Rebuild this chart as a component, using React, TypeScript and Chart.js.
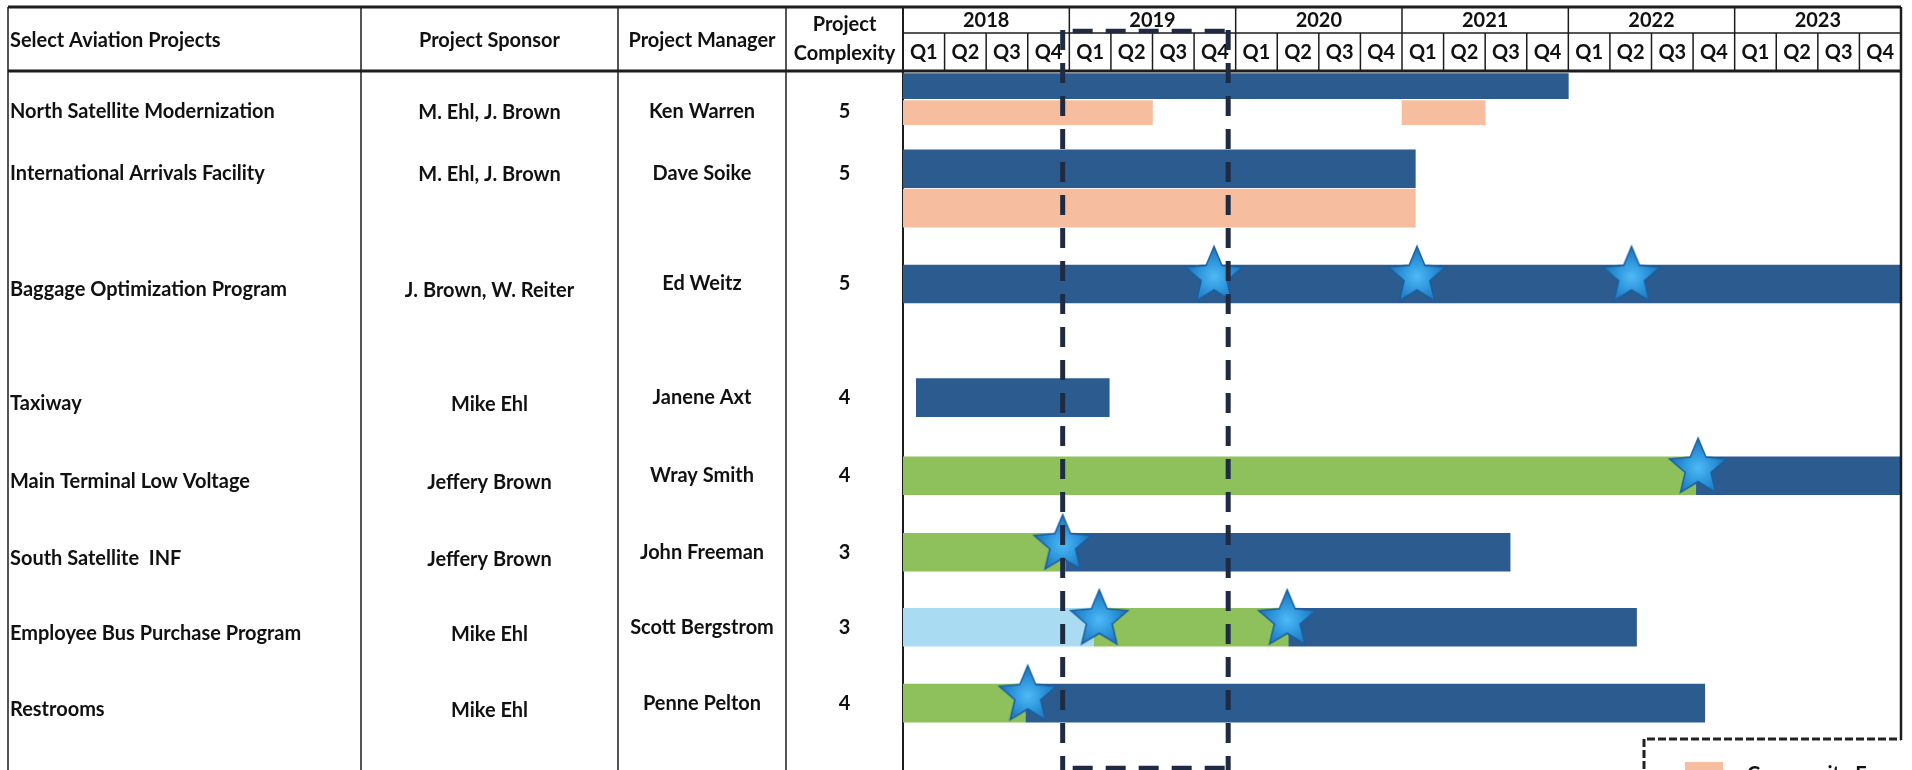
import React, { useEffect, useRef } from 'react';
import { Chart, registerables } from 'chart.js';

Chart.register(...registerables);

// ---------------- data ----------------
const years = ['2018', '2019', '2020', '2021', '2022', '2023'];
const quarters = ['Q1', 'Q2', 'Q3', 'Q4'];

const projects = [
  'North Satellite Modernization',
  'International Arrivals Facility',
  'Baggage Optimization Program',
  'Taxiway',
  'Main Terminal Low Voltage',
  'South Satellite  INF',
  'Employee Bus Purchase Program',
  'Restrooms',
];
const sponsors = [
  'M. Ehl, J. Brown',
  'M. Ehl, J. Brown',
  'J. Brown, W. Reiter',
  'Mike Ehl',
  'Jeffery Brown',
  'Jeffery Brown',
  'Mike Ehl',
  'Mike Ehl',
];
const managers = [
  'Ken Warren',
  'Dave Soike',
  'Ed Weitz',
  'Janene Axt',
  'Wray Smith',
  'John Freeman',
  'Scott Bergstrom',
  'Penne Pelton',
];
const complexity = [5, 5, 5, 4, 4, 3, 3, 4];

// dark-blue schedule bars, fractional years
const scheduleStart = [2018.0, 2018.0, 2018.0, 2018.08, 2022.77, 2018.98, 2020.32, 2018.74];
const scheduleEnd = [2022.0, 2021.08, 2024.0, 2019.24, 2024.0, 2021.65, 2022.41, 2022.82];

// green phase
const greenStart = [null, null, null, null, 2018.0, 2018.0, 2019.15, 2018.0];
const greenEnd = [null, null, null, null, 2022.77, 2018.98, 2020.32, 2018.74];

// light-blue phase
const lightStart = [null, null, null, null, null, null, 2018.0, null];
const lightEnd = [null, null, null, null, null, null, 2019.15, null];

// community engagement (peach) bars
const communityProject = [0, 0, 1];
const communityStart = [2018.0, 2021.0, 2018.0];
const communityEnd = [2019.5, 2021.5, 2021.08];

// milestones (stars)
const milestoneProject = [2, 2, 2, 4, 5, 6, 6, 7];
const milestoneDate = [2019.87, 2021.09, 2022.38, 2022.78, 2018.96, 2019.18, 2020.31, 2018.75];

// highlighted window (dashed box)
const windowRange = [2018.96, 2019.955];

// ---------------- layout ----------------
const W = 1912;
const H = 770;
const HEADER_BOTTOM = 71;
const ROW_PX = 77;
const Y_MAX = (H - HEADER_BOTTOM) / ROW_PX;
// lane (row units) of each project's schedule bar
const scheduleLane = [0.2, 1.29, 2.81, 4.31, 5.34, 6.35, 7.34, 8.34];
// lane of the community bar for projects 0 and 1
const communityLane = [0.55, 1.81];
// lane of text of each row
const textLane = [0.54, 1.35, 2.81, 4.31, 5.34, 6.35, 7.34, 8.34];
const colEdges = [8, 361, 618, 786];

const C_BLUE = '#2C5B90';
const C_PEACH = '#F6BE9F';
const C_GREEN = '#8EC05B';
const C_LIGHT = '#A9DCF3';
const C_LINE = '#1c1c1c';
const C_DASH = '#1F2B43';
const FONT_FAMILY = 'Lato, "Liberation Sans", sans-serif';

function makeStar(R: number): HTMLCanvasElement {
  const s = Math.ceil(R * 2 + 6);
  const c = document.createElement('canvas');
  c.width = s;
  c.height = s;
  const g = c.getContext('2d')!;
  const cx = s / 2;
  const cy = s / 2;
  const r = R * 0.45;
  g.beginPath();
  for (let i = 0; i < 10; i++) {
    const rad = i % 2 === 0 ? R : r;
    const a = -Math.PI / 2 + (i * Math.PI) / 5;
    const px = cx + rad * Math.cos(a);
    const py = cy + rad * Math.sin(a);
    if (i === 0) g.moveTo(px, py);
    else g.lineTo(px, py);
  }
  g.closePath();
  const grad = g.createRadialGradient(cx, cy, 1, cx, cy, R);
  grad.addColorStop(0, '#4CB8F4');
  grad.addColorStop(0.45, '#3099DF');
  grad.addColorStop(1, '#1E70B8');
  g.fillStyle = grad;
  g.fill();
  g.lineWidth = 1.5;
  g.strokeStyle = '#1A5F9F';
  g.stroke();
  return c;
}

function line(ctx: CanvasRenderingContext2D, x1: number, y1: number, x2: number, y2: number) {
  ctx.beginPath();
  ctx.moveTo(x1, y1);
  ctx.lineTo(x2, y2);
  ctx.stroke();
}

function fittedFont(ctx: CanvasRenderingContext2D) {
  ctx.font = `bold 20px ${FONT_FAMILY}`;
  const fs = (20 * 265) / ctx.measureText(projects[0]).width;
  return { fs, font: `bold ${fs.toFixed(2)}px ${FONT_FAMILY}` };
}

const tablePlugin = {
  id: 'projectTable',
  beforeDraw(chart: any) {
    const { ctx } = chart;
    ctx.save();
    ctx.fillStyle = '#ffffff';
    ctx.fillRect(0, 0, chart.width, chart.height);
    ctx.restore();
  },
  beforeDatasetsDraw(chart: any) {
    const { ctx, chartArea, scales } = chart;
    const x = scales.x;
    const y = scales.y;
    const top = 7;
    const mid = 33;
    const hb = chartArea.top;
    const left = chartArea.left;
    const right = chartArea.right;

    ctx.save();
    const { font } = fittedFont(ctx);

    // grid lines
    ctx.strokeStyle = C_LINE;
    ctx.lineWidth = 3;
    line(ctx, colEdges[0], top, right, top);
    line(ctx, colEdges[0], hb, right, hb);
    ctx.lineWidth = 1.5;
    line(ctx, left, mid, right, mid);
    for (const cx of colEdges) line(ctx, cx, top, cx, H);
    ctx.lineWidth = 2;
    line(ctx, left, top, left, H);
    ctx.lineWidth = 1.5;
    for (let yi = 1; yi < years.length; yi++) {
      const px = x.getPixelForValue(Number(years[0]) + yi);
      line(ctx, px, top, px, mid);
    }
    for (let k = 1; k < years.length * 4; k++) {
      const px = x.getPixelForValue(Number(years[0]) + k / 4);
      line(ctx, px, mid, px, hb);
    }

    // header text
    ctx.fillStyle = '#111111';
    ctx.font = font;
    ctx.textBaseline = 'middle';
    ctx.textAlign = 'left';
    ctx.fillText('Select Aviation Projects', colEdges[0] + 2, 41);
    ctx.textAlign = 'center';
    ctx.fillText('Project Sponsor', (colEdges[1] + colEdges[2]) / 2, 41);
    ctx.fillText('Project Manager', (colEdges[2] + colEdges[3]) / 2, 41);
    ctx.fillText('Project', (colEdges[3] + left) / 2, 25);
    ctx.fillText('Complexity', (colEdges[3] + left) / 2, 54);
    years.forEach((yr) => {
      const base = Number(yr);
      ctx.fillText(yr, x.getPixelForValue(base + 0.5), 21);
      quarters.forEach((q, qi) => {
        ctx.fillText(q, x.getPixelForValue(base + (qi + 0.5) / 4), 53);
      });
    });

    // row text
    projects.forEach((p, i) => {
      const py = y.getPixelForValue(textLane[i]);
      const shift = i >= 2 ? 6 : 0;
      ctx.textAlign = 'left';
      ctx.fillText(p, colEdges[0] + 2, py + shift);
      ctx.textAlign = 'center';
      ctx.fillText(sponsors[i], (colEdges[1] + colEdges[2]) / 2, py + shift + 1);
      ctx.fillText(managers[i], (colEdges[2] + colEdges[3]) / 2, py);
      ctx.fillText(String(complexity[i]), (colEdges[3] + left) / 2, py);
    });
    ctx.restore();
  },
  afterDatasetsDraw(chart: any) {
    const { ctx, chartArea, scales } = chart;
    const x = scales.x;
    const right = chartArea.right;
    ctx.save();
    // right frame
    ctx.strokeStyle = C_LINE;
    ctx.lineWidth = 2.5;
    line(ctx, right, 7, right, 740);

    // dashed highlight window
    const x1 = x.getPixelForValue(windowRange[0]);
    const x2 = x.getPixelForValue(windowRange[1]);
    ctx.strokeStyle = C_DASH;
    ctx.lineWidth = 5;
    ctx.setLineDash([20, 13]);
    line(ctx, x1, 30, x1, H);
    line(ctx, x2, 30, x2, H);
    ctx.lineWidth = 4.5;
    line(ctx, x1 + 10, 31, x2, 31);
    line(ctx, x1 + 10, H - 2, x2, H - 2);

    // legend box (cut off by the page)
    ctx.strokeStyle = '#222222';
    ctx.lineWidth = 3;
    ctx.setLineDash([8, 3]);
    ctx.beginPath();
    ctx.moveTo(1644, H + 10);
    ctx.lineTo(1644, 739);
    ctx.lineTo(right, 739);
    ctx.stroke();
    ctx.setLineDash([]);
    ctx.fillStyle = C_PEACH;
    ctx.fillRect(1685, 762, 38, 20);
    const { fs, font } = fittedFont(ctx);
    ctx.font = font;
    ctx.fillStyle = '#111111';
    ctx.textAlign = 'left';
    ctx.textBaseline = 'alphabetic';
    ctx.fillText('Community Engagement', 1747, 767 + fs * 0.72);
    ctx.restore();
  },
};

function ranges(starts: (number | null)[], ends: (number | null)[], lanes: number[], keep: (i: number) => boolean) {
  const out: any[] = [];
  starts.forEach((s, i) => {
    if (s == null || ends[i] == null || !keep(i)) return;
    out.push({ x: [s, ends[i]], y: lanes[i] });
  });
  return out;
}

export default function App() {
  const ref = useRef<HTMLCanvasElement>(null);

  useEffect(() => {
    document.body.style.margin = '0';
    const canvas = ref.current;
    if (!canvas) return;
    const star = makeStar(30);

    const barBase = {
      type: 'bar' as const,
      indexAxis: 'y' as const,
      grouped: false,
      borderWidth: 0,
      borderSkipped: false,
      order: 2,
    };

    const communityData = communityProject.map((p, k) => ({
      x: [communityStart[k], communityEnd[k]],
      y: communityLane[p],
    }));

    const chart = new Chart(canvas, {
      type: 'bar',
      data: {
        datasets: [
          {
            type: 'scatter',
            label: 'Milestone',
            data: milestoneProject.map((p, k) => ({ x: milestoneDate[k], y: scheduleLane[p] - 0.1 })),
            pointStyle: star,
            pointRadius: 10,
            showLine: false,
            order: 0,
          } as any,
          {
            ...barBase,
            label: 'Schedule',
            data: ranges(scheduleStart, scheduleEnd, scheduleLane, (i) => i !== 0),
            backgroundColor: C_BLUE,
            barThickness: 38,
          },
          {
            ...barBase,
            label: 'Schedule ',
            data: ranges(scheduleStart, scheduleEnd, scheduleLane, (i) => i === 0),
            backgroundColor: C_BLUE,
            barThickness: 25,
          },
          {
            ...barBase,
            label: 'Community Engagement',
            data: communityData.filter((d, k) => communityProject[k] === 0),
            backgroundColor: C_PEACH,
            barThickness: 24,
          },
          {
            ...barBase,
            label: 'Community Engagement ',
            data: communityData.filter((d, k) => communityProject[k] !== 0),
            backgroundColor: C_PEACH,
            barThickness: 38,
          },
          {
            ...barBase,
            label: 'Design',
            data: ranges(greenStart, greenEnd, scheduleLane, () => true),
            backgroundColor: C_GREEN,
            barThickness: 38,
          },
          {
            ...barBase,
            label: 'Planning',
            data: ranges(lightStart, lightEnd, scheduleLane, () => true),
            backgroundColor: C_LIGHT,
            barThickness: 38,
          },
        ] as any,
      },
      options: {
        animation: false,
        responsive: false,
        indexAxis: 'y',
        layout: { padding: { left: 903, right: W - 1909, top: HEADER_BOTTOM, bottom: 0 } },
        scales: {
          x: {
            type: 'linear',
            min: Number(years[0]),
            max: Number(years[years.length - 1]) + 1,
            offset: false,
            display: false,
            grid: { display: false, offset: false },
          },
          y: {
            type: 'linear',
            min: 0,
            max: Y_MAX,
            reverse: true,
            offset: false,
            display: false,
            grid: { display: false, offset: false },
          },
        },
        plugins: {
          legend: { display: false },
          tooltip: { enabled: false },
        },
      } as any,
      plugins: [tablePlugin],
    });

    return () => chart.destroy();
  }, []);

  return (
    <div style={{ width: W, height: H, background: '#ffffff', overflow: 'hidden' }}>
      <canvas ref={ref} width={W} height={H} style={{ display: 'block' }} />
    </div>
  );
}
